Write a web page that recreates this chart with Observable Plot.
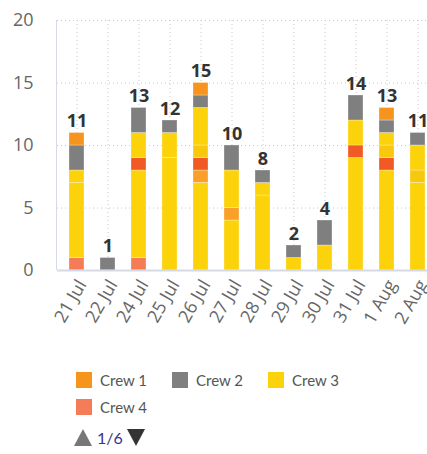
<!DOCTYPE html>
<html><head><meta charset="utf-8">
<script src="https://cdn.jsdelivr.net/npm/d3@7"></script>
<script src="https://cdn.jsdelivr.net/npm/@observablehq/plot@0.6"></script>
<style>
html,body{margin:0;padding:0;background:#fff;overflow:hidden}
body{width:427px;height:454px;position:relative}
#chart{position:absolute;left:0;top:0}
#legend{position:absolute;left:76px;top:371px;font-family:Lato,"Open Sans",sans-serif;font-size:15px;color:#555}
.item{position:absolute;display:flex;align-items:center;white-space:nowrap}
.sw{width:16px;height:16px;margin-right:8px}
#pager{position:absolute;left:74px;top:428px;font-family:Lato,"Open Sans",sans-serif;font-size:16px;color:#333399;display:flex;align-items:center}
.tri{width:0;height:0;border-left:9px solid transparent;border-right:9px solid transparent}
</style></head><body>
<div id="chart"></div>
<div id="legend"></div>
<div id="pager"><span class="tri" style="border-bottom:17px solid #777"></span><span style="margin:0 4px 0 5px">1/6</span><span class="tri" style="border-top:17px solid #333"></span></div>
<script>
const dates = ["21 Jul","22 Jul","24 Jul","25 Jul","26 Jul","27 Jul","28 Jul","29 Jul","30 Jul","31 Jul","1 Aug","2 Aug"];
// stack order bottom -> top
const seriesNames = ["Crew 4","Crew 7","Crew 6","Crew 5","Crew 8","Crew 3","Crew 2","Crew 1"];
const seriesColors = ["#F47C56","#FCD20A","#F9A02A","#F15A24","#F7C80C","#FCD20A","#7F7F7F","#F7941D"];
const crew4 = [1,0,1,0,0,0,0,0,0,0,0,0];
const crew7 = [6,0,7,9,7,4,6,0,0,9,8,7];
const crew6 = [0,0,0,0,1,1,0,0,0,0,0,0];
const crew5 = [0,0,1,0,1,0,0,0,0,1,1,0];
const crew8 = [0,0,0,0,1,0,0,0,0,0,1,1];
const crew3 = [1,0,2,2,3,3,1,1,2,2,1,2];
const crew2 = [2,1,2,1,1,2,1,1,2,2,1,1];
const crew1 = [1,0,0,0,1,0,0,0,0,0,1,0];
const totals = [11,1,13,12,15,10,8,2,4,14,13,11];
const yTicks = [0,5,10,15,20];
const legendNames = ["Crew 1","Crew 2","Crew 3","Crew 4"];
const legendColors = ["#F7941D","#7F7F7F","#FCD20A","#F47C56"];

const seriesValues = [crew4,crew7,crew6,crew5,crew8,crew3,crew2,crew1];
const rows = [];
seriesNames.forEach((s,k)=>dates.forEach((d,i)=>{ if (seriesValues[k][i]) rows.push({date:d, series:s, value:seriesValues[k][i]}); }));
const tot = dates.map((d,i)=>({date:d, total:totals[i]}));

const W = 427, H = 362, ML = 57, MT = 20, MB = H - 270;
const step = 31.7;
const chart = Plot.plot({
  width: W, height: H,
  marginLeft: ML, marginRight: 0, marginTop: MT, marginBottom: MB,
  style: {fontFamily: "'Open Sans', sans-serif", background: "#fff", overflow: "hidden"},
  x: {domain: dates, range: [ML, ML + step*dates.length], paddingInner: 0.53, paddingOuter: 0.265, label: null},
  y: {domain: [0,20], label: null},
  color: {domain: seriesNames, range: seriesColors},
  marks: [
    Plot.gridY(yTicks.slice(1), {stroke: "#c8c8c8", strokeOpacity: 1, strokeDasharray: "1,3"}),
    Plot.gridX(dates, {stroke: "#c8c8c8", strokeOpacity: 1, strokeDasharray: "1,3"}),
    Plot.barY(rows, {x: "date", y: "value", fill: "series", order: null, inset: 0, stroke: "#fff", strokeOpacity: 0.3, strokeWidth: 1}),
    Plot.ruleY([0], {stroke: "#d6dae6", strokeWidth: 2}),
    Plot.axisY({ticks: yTicks, tickSize: 0, tickPadding: 24, fontSize: 18, fill: "#666", label: null}),
    Plot.axisX({tickSize: 0, tickRotate: -60, tickPadding: 11, dx: 5, fontSize: 18, fill: "#666", label: null}),
    Plot.text(tot, {x: "date", y: "total", text: d => String(d.total), lineAnchor: "bottom", dy: -6, fontSize: 18, fontWeight: "bold", fill: "#333"})
  ]
});
// left axis line through the scales
const ys = chart.scale("y");
d3.select(chart).append("line")
  .attr("x1", ML - 0.5).attr("x2", ML - 0.5)
  .attr("y1", ys.apply(20)).attr("y2", ys.apply(0))
  .attr("stroke", "#d6dae6").attr("stroke-width", 1);
document.getElementById("chart").append(chart);

const leg = document.getElementById("legend");
const pos = [[0,0],[96,0],[192,0],[0,27]];
legendNames.forEach((n,i)=>{
  const it = document.createElement("div");
  it.className = "item";
  it.style.left = pos[i][0] + "px"; it.style.top = pos[i][1] + "px";
  it.innerHTML = `<span class="sw" style="background:${legendColors[i]}"></span><span>${n}</span>`;
  leg.append(it);
});
</script>
</body></html>
